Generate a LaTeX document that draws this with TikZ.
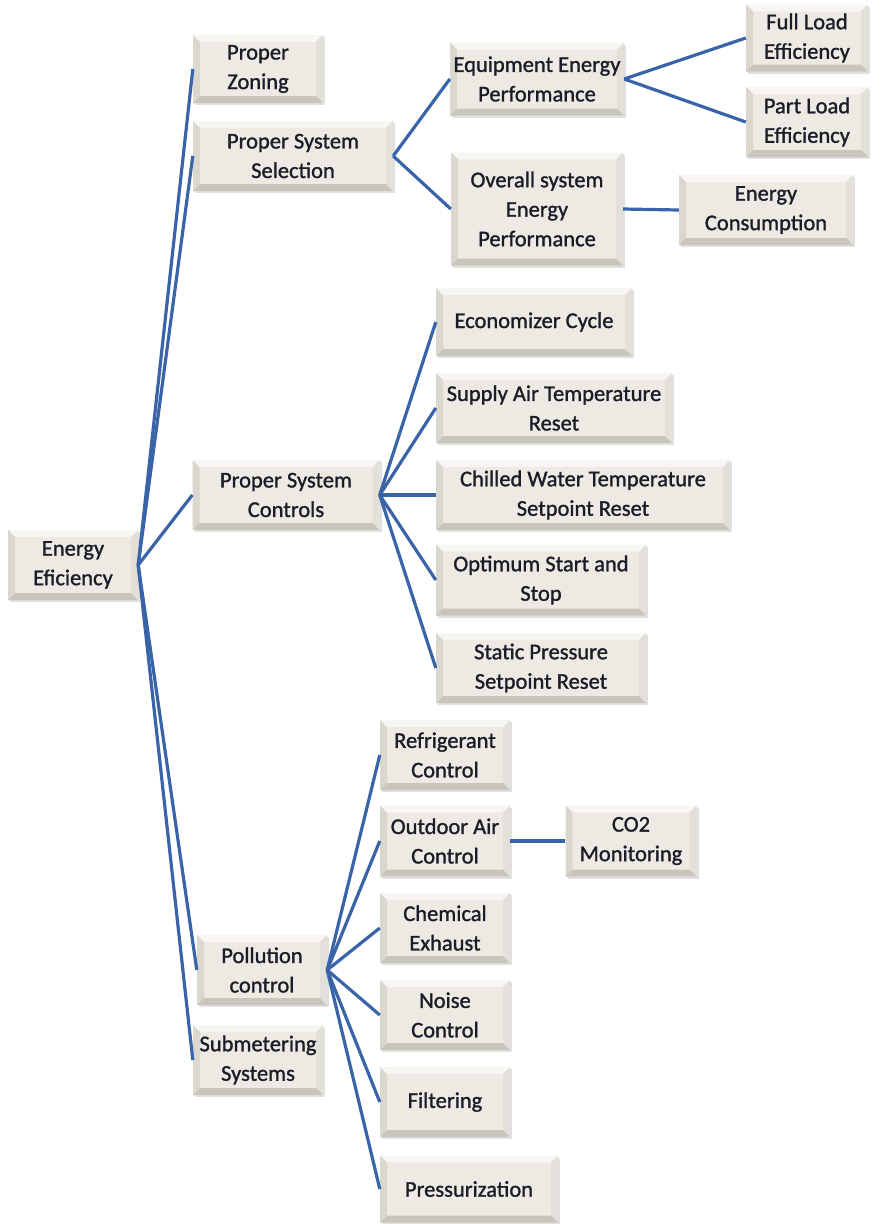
\documentclass[tikz,border=0pt]{standalone}
\usepackage{fontspec}
\setmainfont{Carlito}
\newfontfamily\boxfont[FakeBold=1.2]{Carlito}
\usetikzlibrary{calc,shadows}
\definecolor{boxfill}{HTML}{ECEAE3}
\definecolor{bevtop}{HTML}{F7F6F2}
\definecolor{bevleft}{HTML}{D9D7CE}
\definecolor{bevright}{HTML}{E2E0D8}
\definecolor{bevbot}{HTML}{C8C6BC}
\definecolor{edge}{HTML}{3A64A8}
\definecolor{txt}{HTML}{1C1C28}
\newcommand{\bev}{7pt}
\tikzset{
  box/.style={fill=boxfill, minimum width=#1, minimum height=70pt,
    align=center, text=txt, inner sep=0pt,
    font=\boxfont\fontsize{22.5}{29.5}\selectfont,
    drop shadow={shadow xshift=2pt, shadow yshift=-2pt, fill=black, opacity=0.12},
    path picture={
      \coordinate (sw) at (path picture bounding box.south west);
      \coordinate (ne) at (path picture bounding box.north east);
      \coordinate (nw) at (sw |- ne);
      \coordinate (se) at (ne |- sw);
      \fill[bevtop] (nw) -- (ne) -- ($(ne)+(-\bev,-\bev)$) -- ($(nw)+(\bev,-\bev)$) -- cycle;
      \fill[bevleft] (nw) -- ($(nw)+(\bev,-\bev)$) -- ($(sw)+(\bev,\bev)$) -- (sw) -- cycle;
      \fill[bevright] (ne) -- ($(ne)+(-\bev,-\bev)$) -- ($(se)+(-\bev,\bev)$) -- (se) -- cycle;
      \fill[bevbot] (sw) -- ($(sw)+(\bev,\bev)$) -- ($(se)+(-\bev,\bev)$) -- (se) -- cycle;
    }},
  box/.default=130pt,
  link/.style={draw=edge, line width=3.2pt}
}
\begin{document}
\begin{tikzpicture}[x=1pt,y=-1pt]
\useasboundingbox (0,0) rectangle (885,1224);
% root
\node[box] (root) at (73,565) {Energy\\Eficiency};
% first level
\node[box] (zon) at (258,69) [minimum height=68pt] {Proper\\Zoning};
\node[box=200pt] (sel) at (293,156) {Proper System\\Selection};
\node[box=187pt] (ctl) at (286,495) {Proper System\\Controls};
\node[box] (pol) at (262,970) {Pollution\\control};
\node[box] (sub) at (258,1060) {Submetering\\Systems};
% system selection branch
\node[box=174pt] (eqp) at (537,79) [minimum height=73pt] {Equipment Energy\\Performance};
\node[box=122pt] (full) at (807,38) [minimum height=67pt] {Full Load\\Efficiency};
\node[box=122pt] (part) at (807,122) {Part Load\\Efficiency};
\node[box=172pt] (ovr) at (537,209) [minimum height=113pt] {Overall system\\Energy\\Performance};
\node[box=174pt] (cons) at (766,210) {Energy\\Consumption};
% controls branch
\node[box=196pt] (eco) at (534,322) [minimum height=68pt] {Economizer Cycle};
\node[box=236pt] (sat) at (554,408) {Supply Air Temperature\\Reset};
\node[box=294pt] (chw) at (583,495) {Chilled Water Temperature\\Setpoint Reset};
\node[box=210pt] (opt) at (541,580) [minimum height=71pt] {Optimum Start and\\Stop};
\node[box=210pt] (stp) at (541,668) {Static Pressure\\Setpoint Reset};
% pollution branch
\node[box] (ref) at (445,755) {Refrigerant\\Control};
\node[box] (oac) at (445,841) [minimum height=71pt] {Outdoor Air\\Control};
\node[box=131pt] (co2) at (631,841) [minimum height=71pt] {CO2\\Monitoring};
\node[box] (chx) at (445,928) {Chemical\\Exhaust};
\node[box] (noi) at (445,1015) {Noise\\Control};
\node[box] (fil) at (445,1102) {Filtering};
\node[box=178pt] (prs) at (469,1189) [minimum height=67pt] {Pressurization};
% connectors
\foreach \c in {zon,sel,ctl,pol,sub} \draw[link] (root.east) -- (\c.west);
\foreach \c in {eqp,ovr} \draw[link] (sel.east) -- (\c.west);
\foreach \c in {full,part} \draw[link] (eqp.east) -- (\c.west);
\draw[link] (ovr.east) -- (cons.west);
\foreach \c in {eco,sat,chw,opt,stp} \draw[link] (ctl.east) -- (\c.west);
\foreach \c in {ref,oac,chx,noi,fil,prs} \draw[link] (pol.east) -- (\c.west);
\draw[link] (oac.east) -- (co2.west);
\end{tikzpicture}
\end{document}
